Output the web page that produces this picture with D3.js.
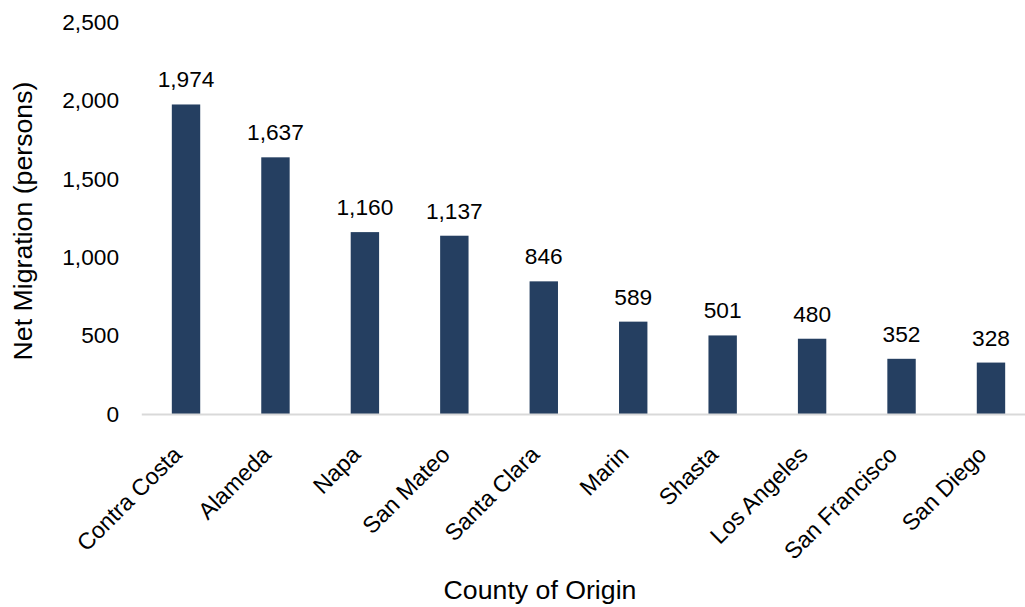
<!DOCTYPE html>
<html>
<head>
<meta charset="utf-8">
<script src="https://cdn.jsdelivr.net/npm/d3@7"></script>
<style>
  body { margin: 0; background: #fff; }
  text { font-family: "Liberation Sans", Arial, sans-serif; fill: #000; }
</style>
</head>
<body>
<svg id="chart" width="1025" height="607"></svg>
<script>
// Net migration by county of origin
const counties = ["Contra Costa", "Alameda", "Napa", "San Mateo", "Santa Clara",
                  "Marin", "Shasta", "Los Angeles", "San Francisco", "San Diego"];
const netMigration = [1974, 1637, 1160, 1137, 846, 589, 501, 480, 352, 328];
const yTicks = [0, 500, 1000, 1500, 2000, 2500];

const svg = d3.select("#chart");
const plot = { left: 141.3, right: 1035.7, top: 22, bottom: 414 };
const labelSize = "22.7px";
const catSize = "23.2px";
const titleSize = "26.7px";

const x = d3.scaleBand()
  .domain(counties)
  .range([plot.left, plot.right])
  .paddingInner(0.6825)
  .paddingOuter(0.34125);

const y = d3.scaleLinear()
  .domain([0, 2500])
  .range([plot.bottom, plot.top]);

const fmt = d3.format(",");
const data = counties.map((c, i) => ({ county: c, value: netMigration[i] }));

// y tick labels (no axis line, no gridlines)
const yAxis = svg.append("g")
  .attr("transform", `translate(142,0)`)
  .call(d3.axisLeft(y).tickValues(yTicks).tickFormat(fmt).tickSize(0).tickPadding(23));
yAxis.select(".domain").remove();
yAxis.selectAll("text")
  .style("font-size", labelSize)
  .style("font-family", "Liberation Sans, Arial, sans-serif");

// bars
svg.append("g").selectAll("rect")
  .data(data)
  .join("rect")
  .attr("x", d => x(d.county))
  .attr("width", x.bandwidth())
  .attr("y", d => y(d.value))
  .attr("height", d => y(0) - y(d.value))
  .attr("fill", "#253f61");

// value labels
svg.append("g").selectAll("text")
  .data(data)
  .join("text")
  .attr("x", d => x(d.county) + x.bandwidth() / 2)
  .attr("y", d => y(d.value) - 17)
  .attr("text-anchor", "middle")
  .style("font-size", labelSize)
  .text(d => fmt(d.value));

// x axis baseline and rotated category labels
const xAxis = svg.append("g")
  .attr("transform", `translate(0,${y(0)})`)
  .call(d3.axisBottom(x).tickSize(0).tickSizeOuter(0).tickPadding(0));
xAxis.select(".domain").attr("stroke", "#d9d9d9").attr("stroke-width", 2);
xAxis.selectAll("text")
  .attr("text-anchor", "end")
  .attr("y", 0)
  .attr("dy", 0)
  .attr("transform", "translate(-3,42) rotate(-45)")
  .style("font-size", catSize)
  .style("font-family", "Liberation Sans, Arial, sans-serif");

// axis titles
svg.append("text")
  .attr("x", 540)
  .attr("y", 599)
  .attr("text-anchor", "middle")
  .style("font-size", titleSize)
  .text("County of Origin");

svg.append("text")
  .attr("transform", `translate(32,221) rotate(-90)`)
  .attr("text-anchor", "middle")
  .style("font-size", titleSize)
  .text("Net Migration (persons)");
</script>
</body>
</html>
